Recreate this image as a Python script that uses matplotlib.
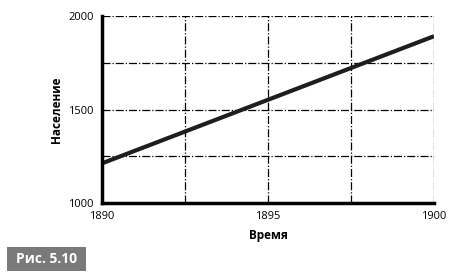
import matplotlib
matplotlib.use('Agg')
import matplotlib.pyplot as plt
from matplotlib.patches import Rectangle

# population trend
years = [1890, 1900]
population = [1212, 1892]

x_major = [1890, 1895, 1900]
x_minor = [1892.5, 1897.5]
y_major = [1000, 1500, 2000]
y_minor = [1250, 1750]

plt.rcParams['font.family'] = ['Open Sans', 'DejaVu Sans']

W, H = 459, 278
fig = plt.figure(figsize=(W / 100, H / 100), dpi=100)
ax = fig.add_axes([102/W, 1 - 203/H, 332/W, 187/H])

ax.plot(years, population, color='#1e1e1e', lw=3, solid_capstyle='butt', zorder=3)

ax.set_xlim(1890, 1900)
ax.set_ylim(1000, 2000)
ax.set_xticks(x_major)
ax.set_xticks(x_minor, minor=True)
ax.set_yticks(y_major)
ax.set_yticks(y_minor, minor=True)
ax.tick_params(which='both', length=0, labelsize=8, pad=6)
ax.grid(which='both', color='black', ls='-.', lw=0.9)

for s in ['top', 'right']:
    ax.spines[s].set_visible(False)
for s in ['left', 'bottom']:
    ax.spines[s].set_linewidth(2.5)
    ax.spines[s].set_zorder(4)

ax.set_xlabel('Время', fontsize=8.5, fontweight='bold', labelpad=5)
ax.set_ylabel('Население', fontsize=8.5, fontweight='bold', labelpad=4)

# caption badge
fig.patches.append(Rectangle((7/W, 1 - 271/H), 79/W, 24/H, transform=fig.transFigure,
                             fc='#7a7a7a', ec='none'))
fig.text(46.5/W, 1 - 259/H, 'Рис. 5.10', fontsize=10, fontweight='bold',
         color='white', va='center', ha='center')

fig.savefig('out.png', dpi=100)
